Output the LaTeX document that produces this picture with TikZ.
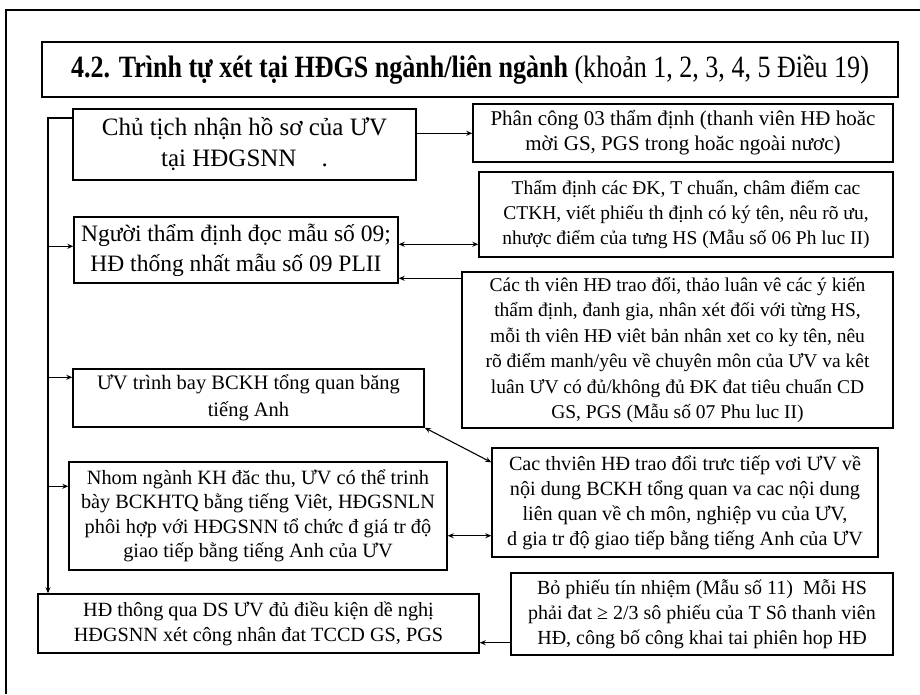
\documentclass[tikz,border=0pt]{standalone}
\usepackage{fontspec}
\setmainfont{Liberation Serif}
\newfontfamily\titlefont{Liberation Serif}[FakeStretch=0.84]
\usetikzlibrary{arrows.meta}
\begin{document}
\begin{tikzpicture}[x=1pt,y=-1pt,
  box/.style={draw, line width=1.4pt, align=center, inner sep=0pt, font=\fontsize{20.2}{25}\selectfont},
  conn/.style={line width=1.1pt},
  >={Stealth[length=6pt,width=5pt]}]
\useasboundingbox (0,0) rectangle (920,694);
% outer frame
\draw[line width=1.8pt] (6,694) -- (6,10) -- (920,10);
% title
\node[box, minimum width=856pt, minimum height=55pt, font=\titlefont\fontsize{31}{34}\selectfont] (T) at (470,69.5)
  {\textbf{4.2. Trình tự xét tại HĐGS ngành/liên ngành} (khoản 1, 2, 3, 4, 5 Điều 19)};
% left column
\node[box, minimum width=343pt, minimum height=71pt, font=\fontsize{25}{31}\selectfont] (A) at (244.5,144.5)
  {Chủ tịch nhận hồ sơ của ƯV\\tại HĐGSNN\quad.};
\node[box, minimum width=324pt, minimum height=66pt, font=\fontsize{23.5}{30}\selectfont] (D) at (236,250)
  {Người thẩm định đọc mẫu số 09;\\HĐ thống nhất mẫu số 09 PLII};
\node[box, minimum width=351pt, minimum height=58pt, font=\fontsize{20.5}{27}\selectfont] (F) at (248.5,398)
  {ƯV trình bay BCKH tổng quan băng\\tiếng Anh};
\node[box, minimum width=378pt, minimum height=108pt, font=\fontsize{20.3}{24.5}\selectfont] (H) at (258,516)
  {Nhom ngành KH đăc thu, ƯV có thể trinh\\bày BCKHTQ bằng tiếng Viêt, HĐGSNLN\\phôi hợp với HĐGSNN tổ chức đ giá tr độ\\giao tiếp bằng tiếng Anh của ƯV};
\node[box, minimum width=441pt, minimum height=59pt] (J) at (258.5,623.5)
  {HĐ thông qua DS ƯV đủ điều kiện dề nghị\\HĐGSNN xét công nhân đat TCCD GS, PGS};
% right column
\node[box, minimum width=420pt, minimum height=58pt, font=\fontsize{21}{25}\selectfont] (B) at (683,133)
  {Phân công 03 thẩm định (thanh viên HĐ hoăc\\mời GS, PGS trong hoăc ngoài nươc)};
\node[box, minimum width=414pt, minimum height=85pt, font=\fontsize{19.5}{25}\selectfont] (C) at (686,214.5)
  {Thẩm định các ĐK, T chuẩn, châm điểm cac\\CTKH, viết phiếu th định có ký tên, nêu rõ ưu,\\nhược điểm của tưng HS (Mẫu số 06 Ph luc II)};
\node[box, minimum width=431pt, minimum height=156pt, font=\fontsize{19.5}{25.5}\selectfont] (E) at (677.5,350)
  {Các th viên HĐ trao đổi, thảo luân vê các ý kiến\\thẩm định, đanh gia, nhân xét đối với từng HS,\\mỗi th viên HĐ viêt bản nhân xet co ky tên, nêu\\rõ điểm manh/yêu về chuyên môn của ƯV va kêt\\luân ƯV có đủ/không đủ ĐK đat tiêu chuẩn CD\\GS, PGS (Mẫu số 07 Phu luc II)};
\node[box, minimum width=386pt, minimum height=109pt] (G) at (685,502.5)
  {Cac thviên HĐ trao đổi trưc tiếp vơi ƯV về\\nội dung BCKH tổng quan va cac nội dung\\liên quan về ch môn, nghiệp vu của ƯV,\\d gia tr độ giao tiếp bằng tiếng Anh của ƯV};
\node[box, minimum width=382pt, minimum height=82pt, font=\fontsize{20}{25}\selectfont] (I) at (702,614)
  {Bỏ phiếu tín nhiệm (Mẫu số 11)\ \ Mỗi HS\\phải đat ≥ 2/3 sô phiếu của T Sô thanh viên\\HĐ, công bố công khai tai phiên hop HĐ};
% spine
\coordinate (sTop) at (48,118);
\draw[conn,->] (sTop -| A.west) -- (sTop) -- (sTop |- J.north);
\coordinate (sd) at ([yshift=-30pt]D.north west);
\draw[conn,->] (sd -| sTop) -- (sd);
\coordinate (sf) at ([yshift=-9pt]F.north west);
\draw[conn,->] (sf -| sTop) -- (sf);
\coordinate (sh) at ([yshift=-25pt]H.north west);
\draw[conn,->] (sh -| sTop) -- (sh);
% right connectors
\coordinate (ab) at ([yshift=-25pt]A.north east);
\draw[conn,->] (ab) -- (ab -| B.west);
\coordinate (dc) at ([yshift=-28pt]D.north east);
\draw[conn,<->] (dc) -- (dc -| C.west);
\coordinate (ed) at ([yshift=-7pt]E.north west);
\draw[conn,->] (ed) -- (ed -| D.east);
\coordinate (gf) at ([yshift=-15pt]G.north west);
\draw[conn,<->] (F.south east) -- (gf);
\coordinate (hg) at ([yshift=22pt]G.south west);
\draw[conn,<->] (hg -| H.east) -- (hg);
\coordinate (ij) at ([yshift=13pt]I.south west);
\draw[conn,->] (ij) -- (ij -| J.east);
\end{tikzpicture}
\end{document}
